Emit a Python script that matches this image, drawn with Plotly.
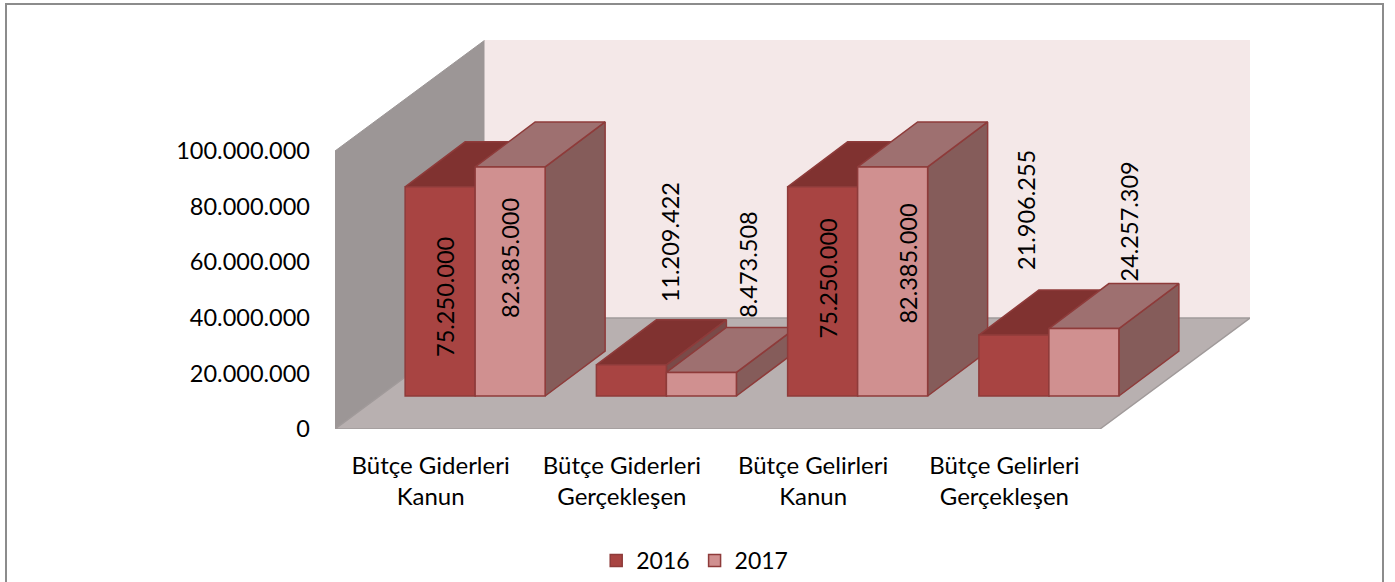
import plotly.graph_objects as go

categories = ["Bütçe Giderleri<br>Kanun", "Bütçe Giderleri<br>Gerçekleşen",
              "Bütçe Gelirleri<br>Kanun", "Bütçe Gelirleri<br>Gerçekleşen"]
values_2016 = [75250000, 11209422, 75250000, 21906255]
values_2017 = [82385000, 8473508, 82385000, 24257309]
y_ticks = [0, 20000000, 40000000, 60000000, 80000000, 100000000]
y_tick_labels = ["0", "20.000.000", "40.000.000", "60.000.000", "80.000.000", "100.000.000"]

W, H = 1395, 582
L, R, T, B = 335, 1250, 40, 429        # plot box in pixels
PX_Y = 278 / 100e6                     # px per unit (100M = 278 px)
PX_X = 765 / 4                         # px per category
YMAX = (B - T) / PX_Y
XMAX = (R - L) / PX_X
FLOOR_DX, FLOOR_DY = 150 / PX_X, 111 / PX_Y   # full depth of the floor
BAR_DX, BAR_DY = 60 / PX_X, 45 / PX_Y         # depth of a bar
GAP_DX, GAP_DY = 44.5 / PX_X, 33 / PX_Y       # bar front offset from the floor front
BAR_W = 70 / PX_X

C_2016, C_2017 = "#A84442", "#D09090"
C_TOP16, C_TOP17 = "#803230", "#9E7070"
C_SIDE16, C_SIDE17 = "#7A4A48", "#855C5A"
C_EDGE = "#8E3B3A"
FONT = "Lato"

fig = go.Figure()


def poly(xs, ys, fill, line=None, width=1):
    fig.add_trace(go.Scatter(
        x=xs + xs[:1], y=ys + ys[:1], mode="lines", fill="toself", fillcolor=fill,
        line=dict(color=line or fill, width=width), hoverinfo="skip", showlegend=False,
    ))


# walls and floor
poly([0, FLOOR_DX, FLOOR_DX, 0], [0, FLOOR_DY, YMAX, 100e6], "#9C9696", "#9C9696")
poly([FLOOR_DX, XMAX, XMAX, FLOOR_DX], [FLOOR_DY, FLOOR_DY, YMAX, YMAX], "#F4E8E8")
poly([0, 4, XMAX, FLOOR_DX], [0, 0, FLOOR_DY, FLOOR_DY], "#B8B0B0", "#A09A9A", 1.5)

# depth faces (top and side) of each bar, painted left to right
for i in range(len(categories)):
    for j, (vals, top, side) in enumerate([(values_2016, C_TOP16, C_SIDE16),
                                           (values_2017, C_TOP17, C_SIDE17)]):
        x0 = i + 0.5 - BAR_W + j * BAR_W + GAP_DX
        x1 = x0 + BAR_W
        y0 = GAP_DY
        y1 = y0 + vals[i]
        poly([x1, x1 + BAR_DX, x1 + BAR_DX, x1],
             [y0, y0 + BAR_DY, y1 + BAR_DY, y1], side, C_EDGE, 1.5)
        poly([x0, x1, x1 + BAR_DX, x0 + BAR_DX],
             [y1, y1, y1 + BAR_DY, y1 + BAR_DY], top, C_EDGE, 1.5)

# front faces, on an overlaid pair of axes so that they hide the depth faces
centres = [i + 0.5 + GAP_DX for i in range(len(categories))]
for j, (name, vals, col) in enumerate([("2016", values_2016, C_2016), ("2017", values_2017, C_2017)]):
    fig.add_trace(go.Bar(
        x=[c - BAR_W / 2 + j * BAR_W for c in centres], y=vals, base=[GAP_DY] * 4, width=BAR_W,
        name=name, marker=dict(color=col, line=dict(color=C_EDGE, width=1.5)),
        xaxis="x2", yaxis="y2",
    ))

# data labels: pixel offsets from the top-centre of the front face
label_offsets = [[(5, 110), (0, 91)], [(38, -123), (47, -108)], [(5, 92), (15, 97)], [(12, -125), (45, -107)]]
annotations = []
for i in range(len(categories)):
    for j, vals in enumerate([values_2016, values_2017]):
        dx, dy = label_offsets[i][j]
        annotations.append(dict(
            x=centres[i] - BAR_W / 2 + j * BAR_W, y=GAP_DY + vals[i], xref="x", yref="y",
            xshift=dx, yshift=-dy, text=f"{vals[i]:,}".replace(",", "."), textangle=-90,
            showarrow=False, font=dict(family=FONT, size=23.5, color="#000"),
        ))

fig.update_layout(
    width=W, height=H, autosize=False, margin=dict(l=0, r=0, t=0, b=0, autoexpand=False),
    paper_bgcolor="white", plot_bgcolor="rgba(0,0,0,0)", barmode="overlay",
    font=dict(family=FONT, size=24, color="#000"),
    annotations=annotations,
    xaxis=dict(domain=[L / W, R / W], range=[0, XMAX], showgrid=False, zeroline=False,
               showline=False, tickmode="array", tickvals=[i + 0.5 for i in range(4)],
               ticktext=categories, ticks="", ticklabelstandoff=20, tickfont=dict(size=24)),
    yaxis=dict(domain=[1 - B / H, 1 - T / H], range=[0, YMAX], showgrid=False, zeroline=False,
               showline=False, tickmode="array", tickvals=y_ticks, ticktext=y_tick_labels,
               ticks="", ticklabelstandoff=24, tickfont=dict(size=23.5)),
    xaxis2=dict(domain=[L / W, R / W], range=[0, XMAX], overlaying="x", visible=False),
    yaxis2=dict(domain=[1 - B / H, 1 - T / H], range=[0, YMAX], overlaying="y", visible=False),
    legend=dict(orientation="h", x=0.498, xanchor="center", y=0.0, yanchor="bottom",
                font=dict(size=23), bgcolor="rgba(0,0,0,0)"),
    shapes=[dict(type="rect", xref="paper", yref="paper", x0=6 / W, x1=1383 / W, y0=1 - 600 / H, y1=1 - 4 / H,
                 line=dict(color="#8C8C8C", width=2), layer="below")],
    showlegend=True,
)
fig.write_html("out.html", post_script="document.body.style.margin='0';",
               config={"displayModeBar": False})
